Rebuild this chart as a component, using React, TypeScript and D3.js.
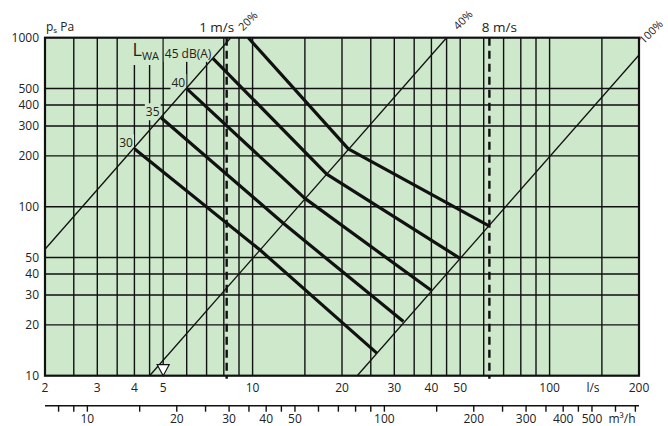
import React, { useEffect, useRef } from "react";
import * as d3 from "d3";

// airflow, l/s
const flowLabels = [2, 3, 4, 5, 10, 20, 30, 40, 50, 100, 200];
const flowGrid = [2.5, 3, 3.5, 4, 4.5, 5, 6, 7, 8, 9, 10, 15, 20, 25, 30, 35, 40, 45, 50, 60, 70, 80, 90, 100, 150];
// static pressure, Pa
const pressLabels = [10, 20, 30, 40, 50, 100, 200, 300, 400, 500, 1000];
const pressGrid = [20, 30, 40, 50, 100, 200, 300, 400, 500];
// airflow, m3/h
const m3hTicks = [8, 9, 10, 15, 20, 25, 30, 35, 40, 45, 50, 60, 70, 80, 90, 100, 150, 200, 250, 300, 350, 400, 450, 500, 600, 700];
const m3hLabels = [10, 20, 30, 40, 50, 100, 200, 300, 400, 500];

// damper opening lines (flow / pressure at both ends)
const openLabels = ["20%", "40%", "100%"];
const openFlow = [[2, 8.44], [4.5, 45], [22.5, 200]];
const openPress = [[56, 1000], [10, 1000], [10, 790]];

// duct velocity
const velLabels = ["1 m/s", "8 m/s"];
const velFlow = [8.18, 62.7];

// sound power level lines: start, kink, end
const lwaLabels = ["30", "35", "40", "45 dB(A)", ""];
const lwaFlow = [[4.0, 10.6, 26.2], [4.92, 12.69, 32.2], [6.0, 15.0, 39.9], [7.35, 17.76, 49.9], [9.67, 21.0, 62.5]];
const lwaPress = [[220, 55.4, 13.6], [336, 79.8, 20.9], [500, 112, 32], [755, 156, 49.5], [1000, 220, 77]];

// minimum flow marker
const markerFlow = 5;

export default function App() {
  const ref = useRef<SVGSVGElement>(null);

  useEffect(() => {
    const svg = d3.select(ref.current);
    svg.selectAll("*").remove();

    const x = d3.scaleLog().domain([2, 200]).range([45, 639]);
    const y = d3.scaleLog().domain([10, 1000]).range([375.7, 37.7]);
    const xm = d3.scaleLog().domain([2 * 3.6, 200 * 3.6]).range([45, 639]);

    const bg = "#cee8cb";
    const ink = "#111";
    const txt = "#222";
    const font = "'Open Sans', 'Noto Sans', sans-serif";

    const [x0, x1] = x.range();
    const [yb, yt] = y.range();

    // plot background
    svg.append("rect")
      .attr("x", x0).attr("y", yt)
      .attr("width", x1 - x0).attr("height", yb - yt)
      .attr("fill", bg);

    // grid
    svg.append("g").selectAll("line")
      .data(flowGrid).enter().append("line")
      .attr("x1", d => x(d)).attr("x2", d => x(d))
      .attr("y1", yt).attr("y2", yb)
      .attr("stroke", ink).attr("stroke-width", 1.4);

    svg.append("g").selectAll("line")
      .data(pressGrid).enter().append("line")
      .attr("x1", x0).attr("x2", x1)
      .attr("y1", d => y(d)).attr("y2", d => y(d))
      .attr("stroke", ink).attr("stroke-width", 1.4);

    // labels for the sound lines, with boxes that hide the grid
    const labelG = svg.append("g");
    const labelT = svg.append("g")
      .attr("font-family", font).attr("font-size", 12).attr("fill", txt);

    lwaLabels.forEach((lab, i) => {
      if (!lab) return;
      const t = labelT.append("text")
        .attr("x", x(lwaFlow[i][0]) - 1.5)
        .attr("y", y(lwaPress[i][0]) - (i === 3 ? 0.5 : 1.5))
        .attr("text-anchor", "end")
        .text(lab);
      const b = (t.node() as SVGTextElement).getBBox();
      const top = i === 3 ? yt : b.y;
      labelG.append("rect")
        .attr("x", b.x - 1).attr("y", top)
        .attr("width", b.width + 2).attr("height", b.y + b.height - top)
        .attr("fill", bg);
    });

    const lwa = labelT.append("text").attr("x", 132.5).attr("y", 55.5);
    lwa.append("tspan").attr("font-size", 18).text("L");
    lwa.append("tspan").attr("font-size", 11).attr("dy", 4.5).text("WA");
    const lb = (lwa.node() as SVGTextElement).getBBox();
    labelG.append("rect")
      .attr("x", lb.x - 2).attr("y", yt)
      .attr("width", lb.width + 4).attr("height", lb.y + lb.height - yt + 2)
      .attr("fill", bg);

    // damper opening lines
    const line = d3.line<[number, number]>().x(d => x(d[0])).y(d => y(d[1]));
    openFlow.forEach((f, i) => {
      svg.append("path")
        .attr("d", line(f.map((q, j) => [q, openPress[i][j]] as [number, number])))
        .attr("fill", "none").attr("stroke", ink).attr("stroke-width", 1.3);
    });

    // velocity lines
    velFlow.forEach(v => {
      svg.append("line")
        .attr("x1", x(v)).attr("x2", x(v))
        .attr("y1", yt).attr("y2", yb + 3)
        .attr("stroke", ink).attr("stroke-width", 2.4)
        .attr("stroke-dasharray", "8,5");
    });

    // sound power lines
    lwaFlow.forEach((f, i) => {
      svg.append("path")
        .attr("d", line(f.map((q, j) => [q, lwaPress[i][j]] as [number, number])))
        .attr("fill", "none").attr("stroke", ink)
        .attr("stroke-width", 3.2).attr("stroke-linejoin", "round");
    });

    // frame
    svg.append("rect")
      .attr("x", x0).attr("y", yt)
      .attr("width", x1 - x0).attr("height", yb - yt)
      .attr("fill", "none").attr("stroke", ink).attr("stroke-width", 2.2);

    // minimum flow marker
    const mx = x(markerFlow);
    svg.append("path")
      .attr("d", `M${mx - 6},${yb - 11}L${mx + 6},${yb - 11}L${mx},${yb}Z`)
      .attr("fill", "#fff").attr("stroke", ink).attr("stroke-width", 1.2);

    const textG = svg.append("g")
      .attr("font-family", font).attr("font-size", 12).attr("fill", txt);

    // y axis labels
    textG.selectAll(".yl").data(pressLabels).enter().append("text")
      .attr("x", x0 - 6).attr("y", d => y(d)).attr("dy", "0.35em")
      .attr("text-anchor", "end").text(d => d);

    const ps = textG.append("text").attr("x", x0 + 1).attr("y", 31);
    ps.append("tspan").text("p");
    ps.append("tspan").attr("font-size", 8).attr("dy", 2).text("s");
    ps.append("tspan").attr("dy", -2).text(" Pa");

    // l/s labels
    textG.selectAll(".xl").data(flowLabels).enter().append("text")
      .attr("x", d => x(d)).attr("y", yb + 16)
      .attr("text-anchor", "middle").text(d => d);
    textG.append("text").attr("x", x(140)).attr("y", yb + 16)
      .attr("text-anchor", "middle").text("l/s");

    // m3/h axis
    const ya = 405.7;
    svg.append("line")
      .attr("x1", x0).attr("x2", x1).attr("y1", ya).attr("y2", ya)
      .attr("stroke", ink).attr("stroke-width", 1.5);
    svg.append("g").selectAll("line").data(m3hTicks).enter().append("line")
      .attr("x1", d => xm(d)).attr("x2", d => xm(d))
      .attr("y1", ya).attr("y2", ya + 6)
      .attr("stroke", ink).attr("stroke-width", 1.4);
    textG.selectAll(".ml").data(m3hLabels).enter().append("text")
      .attr("x", d => xm(d)).attr("y", 422.5)
      .attr("text-anchor", "middle").text(d => d);
    textG.append("text").attr("x", 622).attr("y", 422.5)
      .attr("text-anchor", "middle").text("m³/h");

    // velocity labels
    velLabels.forEach((lab, i) => {
      textG.append("text")
        .attr("x", x(velFlow[i]) + (i === 0 ? -10 : 10)).attr("y", 31.5)
        .attr("text-anchor", "middle").attr("font-size", 13.5)
        .text(lab);
    });

    // opening labels
    const openPos = [[248, 21], [463, 20], [651, 32]];
    openLabels.forEach((lab, i) => {
      textG.append("text")
        .attr("transform", `translate(${openPos[i][0]},${openPos[i][1]}) rotate(-45)`)
        .attr("text-anchor", "middle").attr("dy", "0.35em")
        .attr("font-size", 11).text(lab);
    });
  }, []);

  return (
    <svg
      ref={ref}
      width={668}
      height={426}
      style={{ position: "absolute", left: 0, top: 0, background: "#fff" }}
    />
  );
}
